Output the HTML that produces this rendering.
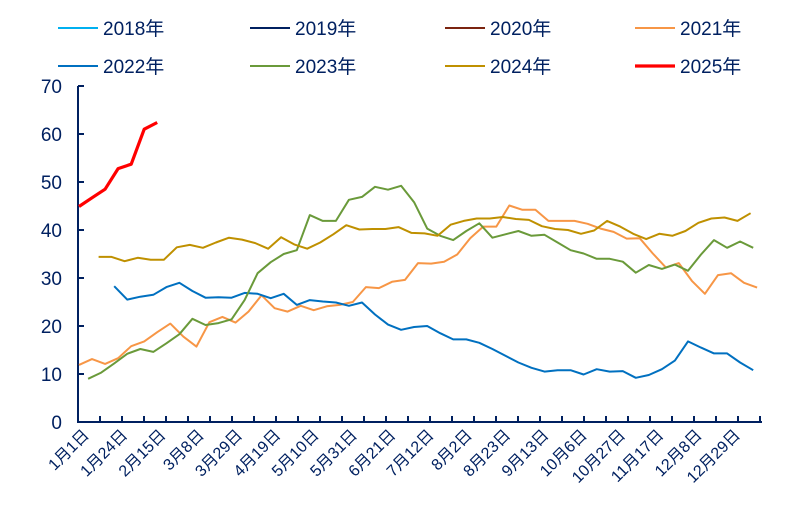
<!DOCTYPE html>
<html><head><meta charset="utf-8"><style>
body{margin:0;background:#fff;}
svg text{font-family:"Liberation Sans","Noto Sans CJK SC",sans-serif;fill:#002060;}
</style></head><body>
<svg id="chart" width="791" height="515" xmlns="http://www.w3.org/2000/svg">
<g id="legend"></g>
<g id="axes"></g>
<g id="series"></g>
</svg>
<script>
const yTicks=[0,10,20,30,40,50,60,70];
const xLabels=["1月1日","1月24日","2月15日","3月8日","3月29日","4月19日","5月10日","5月31日","6月21日","7月12日","8月2日","8月23日","9月13日","10月6日","10月27日","11月17日","12月8日","12月29日"];
const names=["2018年","2019年","2020年","2021年","2022年","2023年","2024年","2025年"];
const starts=[0,0,0,0,2.7,0.7,1.5,0];
const s2018=[];const s2019=[];const s2020=[];
const s2021=[11.9,13.1,12.1,13.3,15.8,16.8,18.7,20.5,17.8,15.7,20.8,21.9,20.7,23,26.4,23.7,23,24.2,23.3,24.1,24.4,25,28.1,27.9,29.2,29.6,33.1,33,33.4,34.9,38.3,40.7,40.7,45.1,44.2,44.2,41.9,41.9,41.9,41.3,40.3,39.6,38.2,38.3,35.1,32.2,33.1,29.4,26.7,30.6,31,29,28];
const s2022=[28.3,25.5,26.1,26.5,28.1,29,27.3,25.9,26,25.9,26.9,26.7,25.8,26.7,24.4,25.4,25.1,24.9,24.2,24.9,22.4,20.3,19.2,19.8,20,18.5,17.2,17.2,16.5,15.2,13.8,12.4,11.3,10.5,10.8,10.8,9.9,11,10.5,10.6,9.2,9.8,11,12.8,16.8,15.5,14.3,14.3,12.4,10.8];
const s2023=[9,10.3,12.2,14.2,15.2,14.6,16.4,18.3,21.5,20.2,20.6,21.4,25.4,31,33.3,35,35.8,43.1,41.9,41.9,46.3,46.9,49,48.4,49.2,45.8,40.3,38.8,37.9,39.8,41.4,38.4,39.1,39.8,38.8,39,37.4,35.8,35.1,34,34,33.4,31.1,32.7,31.9,32.8,31.5,34.9,37.9,36.3,37.6,36.3];
const s2024=[34.4,34.4,33.5,34.2,33.8,33.8,36.4,36.9,36.3,37.4,38.4,38,37.3,36.1,38.5,37,36.1,37.4,39.1,41,40.1,40.2,40.2,40.6,39.4,39.3,38.8,41.1,41.9,42.4,42.4,42.7,42.3,42.1,40.8,40.2,40,39.2,39.9,41.9,40.7,39.2,38.1,39.2,38.8,39.8,41.5,42.4,42.6,41.9,43.5];
const s2025=[44.9,46.7,48.5,52.8,53.7,61,62.4];
const data=[s2018,s2019,s2020,s2021,s2022,s2023,s2024,s2025];
const colors=["#00B0F0","#002060","#7B2410","#F79646","#0070C0","#6A9A3A","#BF9000","#FF0000"];
const widths=[2,2,2,2,2,2,2,3.2];
const NS="http://www.w3.org/2000/svg";
const X0=78,X1=770,Y0=422,Y1=86;
function xs(i){return 79+i*13.04;}
function ys(v){return Y0-(v/70)*(Y0-Y1);}
function mk(tag,attrs,parent){const e=document.createElementNS(NS,tag);for(const k in attrs)e.setAttribute(k,attrs[k]);parent.appendChild(e);return e;}
const axes=document.getElementById('axes'),ser=document.getElementById('series'),leg=document.getElementById('legend');
let a=mk('line',{x1:X0,y1:Y1,x2:X0,y2:Y0+1,stroke:'#002060','stroke-width':2},axes);

a=mk('line',{x1:X0-1,y1:Y0,x2:X1-8,y2:Y0,stroke:'#002060','stroke-width':2},axes);

yTicks.forEach(v=>{
 const t=mk('line',{x1:X0,y1:ys(v),x2:X0+6,y2:ys(v),stroke:'#002060','stroke-width':2},axes);
 
 const l=mk('text',{x:X0-16,y:ys(v)+7,'text-anchor':'end','font-size':19},axes);l.textContent=v;
 
});
for(let k=0;k<31;k++){
 const x=100+k*22;
 const t=mk('line',{x1:x,y1:Y0,x2:x,y2:Y0-6,stroke:'#002060','stroke-width':2},axes);
 
}
xLabels.forEach((s,j)=>{
 const x=90+j*38.3,y=436;
 const l=mk('text',{x:x,y:y,'text-anchor':'end','font-size':16,transform:`rotate(-45 ${x} ${y})`},axes);l.textContent=s;
 
});
data.forEach((arr,si)=>{
 if(!arr.length)return;
 const pts=arr.map((v,k)=>xs(starts[si]+k).toFixed(1)+','+ys(v).toFixed(1)).join(' ');
 const p=mk('polyline',{points:pts,fill:'none',stroke:colors[si],'stroke-width':widths[si],'stroke-linejoin':'round'},ser);
 
 
});
const lx=[58,250,445,635],ly=[28,66];
names.forEach((n,i)=>{
 const x=lx[i%4],y=ly[Math.floor(i/4)];
 const g=mk('g',{},leg);
 
 
 mk('line',{x1:x,y1:y,x2:x+40,y2:y,stroke:colors[i],'stroke-width':widths[i]},g);
 const t=mk('text',{x:x+45,y:y+7,'font-size':19},g);t.textContent=n;
});
</script>
</body></html>
